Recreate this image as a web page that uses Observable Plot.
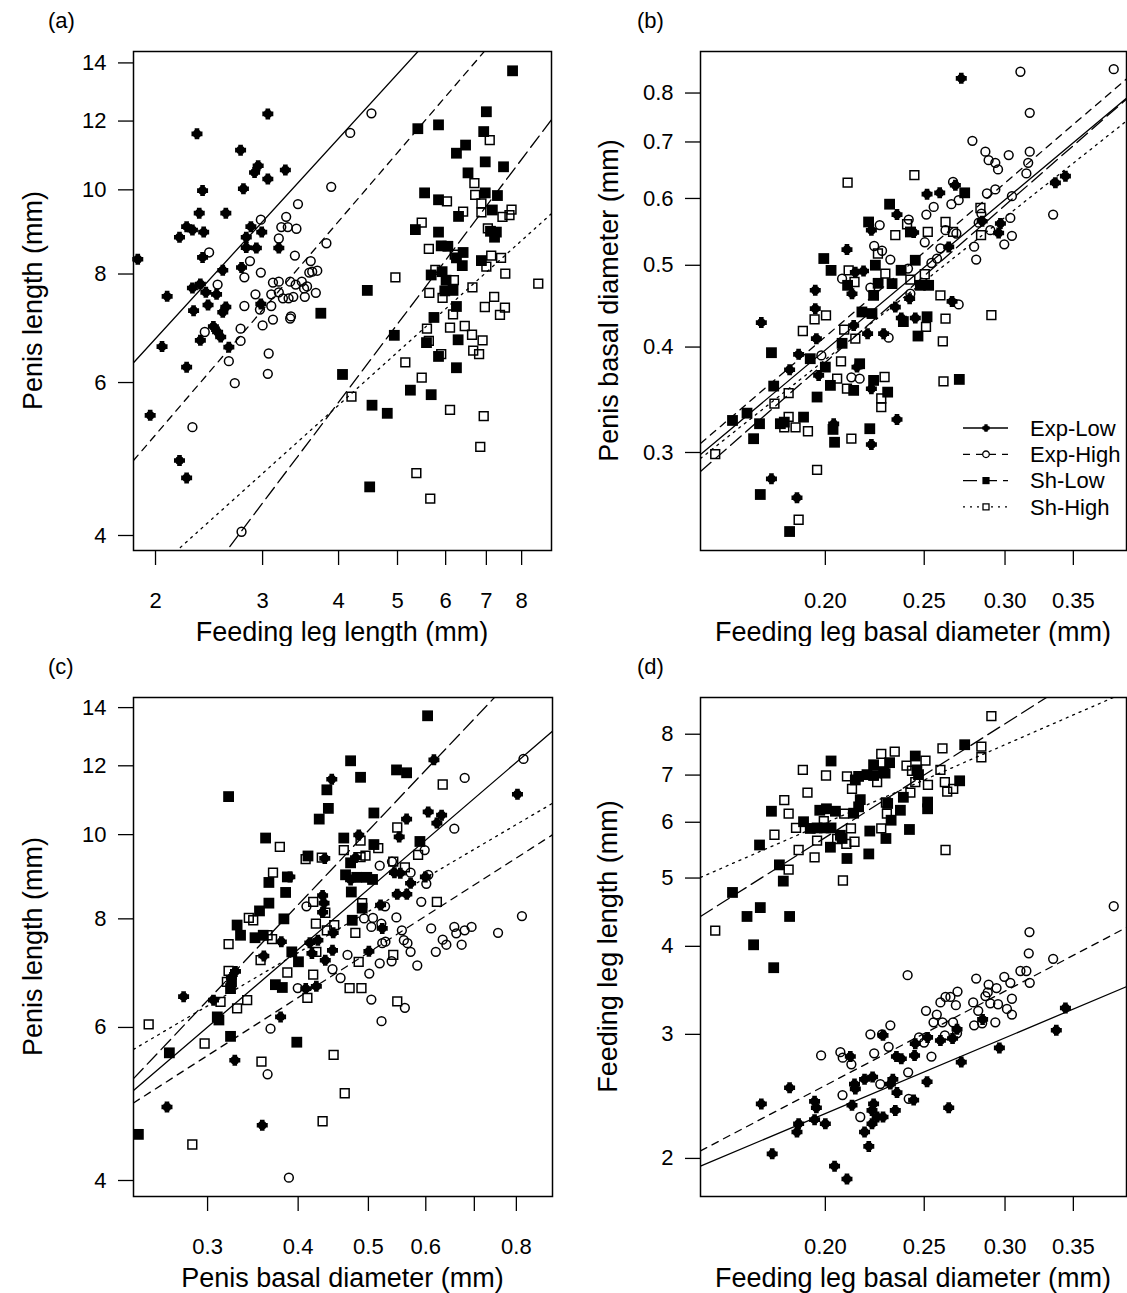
<!DOCTYPE html>
<html>
<head>
<meta charset="utf-8">
<script src="https://cdn.jsdelivr.net/npm/d3@7"></script>
<script src="https://cdn.jsdelivr.net/npm/@observablehq/plot@0.6"></script>
<style>
  body { margin: 0; background: #fff; }
  #fig { position: relative; width: 1127px; height: 1293px; overflow: hidden; background: #fff;
         font-family: "Liberation Sans", Arial, sans-serif; }
  #fig svg { position: absolute; overflow: visible; }
</style>
</head>
<body>
<div id="fig"></div>
<script>
// ---------------------------------------------------------------
// Measurements, [x, y] per individual, one array per group & panel
// ---------------------------------------------------------------
const groups = ["Exp-Low", "Exp-High", "Sh-Low", "Sh-High"];

// (a) penis length vs feeding leg length (mm)
const aExpLow = [[3.06,12.23],[2.34,11.60],[2.76,11.11],[2.95,10.66],[2.91,10.47],[3.27,10.54],[3.06,10.29],[2.39,9.98],[2.79,10.03],[2.36,9.40],[2.61,9.40],[2.25,9.07],[2.30,8.99],[2.40,8.94],[2.19,8.82],[2.87,9.07],[2.99,8.94],[2.82,8.82],[2.82,8.58],[2.93,8.57],[3.19,8.57],[2.39,8.36],[1.87,8.32],[2.58,8.08],[2.77,8.14],[2.09,7.54],[2.30,7.71],[2.37,7.79],[2.42,7.62],[2.52,7.58],[2.31,7.26],[2.44,7.37],[2.61,7.33],[2.58,7.23],[2.98,7.39],[2.49,6.96],[2.53,6.86],[2.56,6.77],[2.37,6.71],[2.64,6.59],[2.05,6.60],[2.25,6.25],[1.96,5.50],[2.19,4.88],[2.25,4.66]];
const aExpHigh = [[4.53,12.25],[4.18,11.63],[3.89,10.08],[3.43,9.63],[3.28,9.31],[2.98,9.24],[3.22,9.06],[3.30,9.06],[3.41,9.02],[3.19,8.79],[3.82,8.68],[2.45,8.47],[3.39,8.40],[3.60,8.28],[2.86,8.28],[2.98,8.03],[2.80,7.93],[3.58,8.03],[3.69,8.07],[3.62,8.05],[2.53,7.78],[3.12,7.82],[3.19,7.84],[3.33,7.84],[3.40,7.78],[3.48,7.84],[3.55,7.74],[3.51,7.70],[2.92,7.58],[3.10,7.58],[3.19,7.62],[3.24,7.50],[3.31,7.50],[3.37,7.53],[3.52,7.53],[3.67,7.61],[2.80,7.35],[2.97,7.28],[3.10,7.35],[3.12,7.09],[3.00,6.98],[3.33,7.11],[3.34,7.15],[2.76,6.92],[2.41,6.86],[2.76,6.70],[3.07,6.48],[2.64,6.35],[3.06,6.14],[2.70,5.99],[2.30,5.33],[2.77,4.04]];
const aShLow = [[7.73,13.71],[7.00,12.30],[5.84,11.88],[5.40,11.76],[6.93,11.67],[6.47,11.26],[6.25,11.02],[6.97,10.77],[7.47,10.63],[6.53,10.46],[5.54,9.92],[5.84,9.74],[6.97,9.92],[7.30,9.85],[7.16,9.48],[6.30,9.32],[5.35,9.00],[5.84,8.94],[7.11,8.96],[7.27,8.94],[7.22,8.82],[5.90,8.62],[6.05,8.61],[6.41,8.47],[6.25,8.35],[6.39,8.18],[6.87,8.29],[5.68,7.98],[5.92,8.05],[6.01,7.87],[5.98,7.65],[6.17,7.66],[4.46,7.66],[6.25,7.34],[5.74,7.13],[4.94,6.80],[5.58,6.67],[6.29,6.72],[5.84,6.43],[6.25,6.24],[4.06,6.13],[5.25,5.88],[5.68,5.81],[4.54,5.65],[4.81,5.53],[4.50,4.55],[3.74,7.21]];
const aShHigh = [[7.09,11.41],[6.69,10.18],[6.71,9.87],[6.03,9.70],[6.87,9.65],[6.41,9.44],[6.87,9.42],[7.70,9.49],[7.64,9.35],[7.44,9.31],[5.48,9.17],[7.04,9.03],[5.63,8.55],[6.21,8.42],[7.13,8.40],[7.40,8.35],[7.00,8.16],[7.52,8.01],[5.77,8.09],[6.19,7.87],[4.96,7.93],[8.52,7.80],[6.64,7.72],[5.64,7.61],[5.93,7.51],[7.21,7.53],[6.96,7.33],[7.51,7.32],[7.37,7.18],[6.17,7.19],[5.59,6.92],[6.10,6.94],[6.45,6.97],[6.63,6.81],[6.90,6.71],[5.63,6.70],[6.66,6.53],[6.81,6.47],[5.90,6.47],[5.15,6.33],[5.48,6.08],[4.20,5.78],[6.10,5.58],[6.93,5.49],[6.84,5.06],[5.37,4.72],[5.66,4.41]];

// (b) penis basal diameter vs feeding leg basal diameter (mm)
const bExpLow = [[0.1955,0.4670],[0.1955,0.4442],[0.1731,0.4276],[0.1960,0.4093],[0.1883,0.3921],[0.1845,0.3760],[0.2148,0.3787],[0.2219,0.3570],[0.2038,0.3244],[0.2351,0.3283],[0.2219,0.3066],[0.1771,0.2792],[0.1876,0.2651],[0.1970,0.3702],[0.2718,0.8327],[0.2516,0.6071],[0.2589,0.6093],[0.2682,0.6221],[0.2351,0.5742],[0.2219,0.5502],[0.2441,0.5467],[0.2100,0.5219],[0.2124,0.4627],[0.2180,0.4923],[0.2140,0.4906],[0.2342,0.4461],[0.2374,0.4330],[0.2450,0.4330],[0.2200,0.4149],[0.2281,0.4149],[0.2419,0.4565],[0.2662,0.4531],[0.2642,0.5257],[0.2849,0.5638],[0.2969,0.5604],[0.2957,0.5461],[0.3361,0.6261],[0.3438,0.6377],[0.2132,0.4242]];
const bExpHigh = [[0.1982,0.3910],[0.2121,0.3683],[0.2161,0.3669],[0.3106,0.8478],[0.3834,0.8537],[0.3172,0.7580],[0.2787,0.7022],[0.2870,0.6817],[0.2891,0.6661],[0.2935,0.6613],[0.2953,0.6494],[0.3025,0.6754],[0.3172,0.6817],[0.3161,0.6613],[0.3148,0.6424],[0.2668,0.6277],[0.2702,0.5972],[0.2658,0.5907],[0.2554,0.5863],[0.2512,0.5742],[0.2880,0.6082],[0.2935,0.6149],[0.3047,0.6038],[0.3344,0.5742],[0.3036,0.5689],[0.2844,0.5758],[0.2827,0.5617],[0.2902,0.5502],[0.3047,0.5418],[0.2995,0.5294],[0.2798,0.5260],[0.2811,0.5079],[0.2414,0.5664],[0.2261,0.5580],[0.2623,0.5502],[0.2688,0.5453],[0.2503,0.5324],[0.2593,0.5237],[0.2233,0.5270],[0.2273,0.5202],[0.2316,0.5079],[0.2541,0.5031],[0.2573,0.5093],[0.2077,0.4821],[0.2214,0.4704],[0.2423,0.4627],[0.2702,0.4493],[0.2307,0.4104],[0.2410,0.4955]];
const bShLow = [[0.1993,0.5093],[0.2026,0.4931],[0.1771,0.3939],[0.1933,0.3875],[0.1780,0.3596],[0.1963,0.3490],[0.1622,0.3274],[0.1676,0.3340],[0.1724,0.3245],[0.1807,0.3245],[0.1823,0.3259],[0.1701,0.3115],[0.1904,0.3304],[0.2035,0.3195],[0.2042,0.3085],[0.2211,0.3201],[0.2302,0.3537],[0.2132,0.3554],[0.2230,0.3652],[0.2161,0.3822],[0.2000,0.3787],[0.2023,0.3603],[0.1727,0.2675],[0.1845,0.2418],[0.2739,0.6093],[0.2312,0.5907],[0.2205,0.5627],[0.2423,0.5476],[0.2450,0.5069],[0.2239,0.5001],[0.2373,0.4932],[0.2103,0.4734],[0.2325,0.4756],[0.2478,0.4734],[0.2525,0.4734],[0.2230,0.4606],[0.2172,0.4402],[0.2222,0.4383],[0.2516,0.4345],[0.2385,0.4288],[0.2465,0.4122],[0.2077,0.4041],[0.2253,0.4760],[0.2706,0.3662]];
const bShHigh = [[0.1952,0.4315],[0.2003,0.4362],[0.1901,0.4179],[0.2072,0.3847],[0.2054,0.3669],[0.2100,0.3571],[0.1841,0.3528],[0.1783,0.3428],[0.1841,0.3307],[0.1823,0.3213],[0.1870,0.3213],[0.1923,0.3179],[0.2121,0.3115],[0.2286,0.3686],[0.2269,0.3476],[0.2269,0.3395],[0.1560,0.2986],[0.1963,0.2861],[0.1883,0.2497],[0.2103,0.6266],[0.2445,0.6395],[0.2838,0.5846],[0.2623,0.5627],[0.2405,0.5592],[0.2342,0.5429],[0.2520,0.5476],[0.2668,0.5476],[0.2842,0.5429],[0.2252,0.5163],[0.2108,0.4932],[0.2290,0.4888],[0.2136,0.4777],[0.2503,0.4879],[0.2423,0.4808],[0.2593,0.4606],[0.2623,0.4322],[0.2510,0.4226],[0.2909,0.4364],[0.2607,0.4063],[0.2087,0.4195],[0.2140,0.4093],[0.2611,0.3642]];

// (c) penis length vs penis basal diameter (mm)
const cExpLow = [[0.4451,11.58],[0.3896,8.94],[0.3792,7.53],[0.3587,7.25],[0.3278,6.96],[0.3236,6.85],[0.4353,9.39],[0.4323,8.51],[0.4343,8.34],[0.4323,8.14],[0.4151,7.51],[0.4259,7.56],[0.4471,7.71],[0.4179,7.30],[0.4461,7.36],[0.4360,7.17],[0.3057,6.45],[0.2780,6.51],[0.3783,6.17],[0.3271,5.50],[0.4238,6.69],[0.4098,6.65],[0.2637,4.86],[0.3569,4.63],[0.6157,12.19],[0.8028,11.13],[0.6046,10.62],[0.6309,10.53],[0.6215,10.31],[0.5645,10.42],[0.5514,9.94],[0.4850,9.99],[0.5431,9.04],[0.5534,9.03],[0.5992,8.94],[0.5717,8.79],[0.5480,8.54],[0.5649,8.54],[0.4800,9.41],[0.4725,8.87],[0.5197,8.30],[0.5225,7.80],[0.5008,7.34]];
const cExpHigh = [[0.4107,8.27],[0.4461,7.00],[0.3995,6.66],[0.3664,5.98],[0.3630,5.30],[0.3884,4.03],[0.8183,12.22],[0.6789,11.62],[0.6569,10.16],[0.5979,9.60],[0.5183,9.21],[0.5389,9.31],[0.5717,9.04],[0.6048,8.99],[0.6010,8.78],[0.5914,8.37],[0.5272,8.27],[0.5465,8.03],[0.5073,8.02],[0.4932,8.01],[0.5047,7.83],[0.5210,7.90],[0.5561,7.76],[0.5225,7.50],[0.5278,7.53],[0.5596,7.56],[0.5661,7.50],[0.5717,7.33],[0.6103,7.80],[0.6569,7.83],[0.6610,7.70],[0.6789,7.76],[0.6939,7.83],[0.6331,7.57],[0.6405,7.47],[0.6724,7.47],[0.6194,7.33],[0.7548,7.71],[0.8143,8.06],[0.5840,7.07],[0.5383,7.15],[0.5183,7.11],[0.5014,6.92],[0.4679,7.27],[0.4577,6.84],[0.5047,6.46],[0.5614,6.32],[0.5213,6.10]];
const cShLow = [[0.3207,11.06],[0.4382,11.26],[0.4403,10.72],[0.4277,10.42],[0.3607,9.91],[0.4127,9.45],[0.3865,8.94],[0.3645,8.81],[0.3844,8.58],[0.3645,8.34],[0.3538,8.17],[0.3823,8.00],[0.3295,7.87],[0.3331,7.66],[0.3488,7.61],[0.3580,7.66],[0.3920,7.33],[0.4004,7.14],[0.3721,6.72],[0.3804,6.67],[0.3237,6.77],[0.3227,6.65],[0.3094,6.17],[0.3110,6.12],[0.3227,5.86],[0.2657,5.61],[0.3983,5.77],[0.2408,4.52],[0.6034,13.70],[0.4725,12.16],[0.4877,11.64],[0.5467,11.87],[0.5645,11.78],[0.5088,10.59],[0.4624,9.91],[0.5088,9.74],[0.5889,9.82],[0.4725,9.28],[0.4736,8.59],[0.4902,8.23],[0.4750,7.97],[0.4650,8.99],[0.4818,8.93],[0.4974,8.93],[0.5066,8.88]];
const cShHigh = [[0.3774,9.68],[0.3693,9.04],[0.4096,9.37],[0.4312,9.41],[0.4196,8.37],[0.3420,8.02],[0.3468,7.97],[0.4232,7.90],[0.4360,8.13],[0.4382,7.76],[0.4486,7.87],[0.3630,7.66],[0.3682,7.58],[0.3207,7.48],[0.3550,7.17],[0.4238,7.33],[0.3207,6.97],[0.3190,6.77],[0.3865,6.94],[0.4196,6.90],[0.3402,6.45],[0.3126,6.42],[0.3295,6.31],[0.4119,6.49],[0.2488,6.05],[0.2972,5.75],[0.3560,5.48],[0.4477,5.58],[0.4638,5.04],[0.4323,4.68],[0.2858,4.40],[0.6331,11.42],[0.5480,10.19],[0.4877,9.84],[0.4624,9.60],[0.4954,9.46],[0.4877,9.42],[0.5159,9.65],[0.5855,9.48],[0.5411,9.31],[0.5614,9.17],[0.6215,8.37],[0.4902,8.34],[0.4797,7.71],[0.5411,7.27],[0.4848,7.14],[0.4710,6.66],[0.4891,6.66],[0.5480,6.43]];

// (d) feeding leg length (mm) vs feeding leg basal diameter (mm)
const dExpLow = [[0.3438,3.27],[0.3368,3.04],[0.2962,2.87],[0.2852,3.15],[0.2692,3.05],[0.2665,2.96],[0.2593,2.94],[0.2519,2.97],[0.2450,2.91],[0.2278,2.99],[0.2718,2.74],[0.2446,2.80],[0.2348,2.79],[0.2374,2.77],[0.2116,2.79],[0.2516,2.57],[0.2329,2.59],[0.2316,2.55],[0.2185,2.59],[0.2225,2.61],[0.2136,2.55],[0.2140,2.51],[0.2351,2.48],[0.2441,2.42],[0.2124,2.38],[0.2230,2.39],[0.2222,2.34],[0.2248,2.29],[0.2278,2.29],[0.2222,2.24],[0.2342,2.34],[0.2642,2.36],[0.2185,2.18],[0.2206,2.08],[0.1952,2.41],[0.1960,2.36],[0.1952,2.27],[0.2000,2.24],[0.1883,2.24],[0.1876,2.18],[0.1845,2.52],[0.1731,2.39],[0.1774,2.03],[0.2042,1.95],[0.2100,1.87]];
const dExpHigh = [[0.3834,4.56],[0.3170,4.19],[0.3165,3.91],[0.3344,3.84],[0.3106,3.69],[0.3148,3.69],[0.3172,3.55],[0.2995,3.62],[0.3036,3.55],[0.2811,3.60],[0.2891,3.53],[0.2943,3.49],[0.2885,3.44],[0.2870,3.40],[0.3047,3.37],[0.2953,3.31],[0.2902,3.32],[0.2792,3.33],[0.3013,3.26],[0.3047,3.20],[0.2824,3.24],[0.2935,3.12],[0.2798,3.09],[0.2849,3.11],[0.2695,3.45],[0.2623,3.39],[0.2652,3.39],[0.2593,3.33],[0.2685,3.30],[0.2510,3.24],[0.2572,3.20],[0.2553,3.12],[0.2605,3.12],[0.2668,3.12],[0.2408,3.64],[0.2316,3.09],[0.2273,3.00],[0.2214,3.00],[0.2307,2.88],[0.2499,2.92],[0.2471,2.97],[0.2619,2.99],[0.2692,3.01],[0.2233,2.82],[0.2121,2.72],[0.2069,2.83],[0.2080,2.78],[0.1981,2.80],[0.2541,2.79],[0.2411,2.65],[0.2264,2.55],[0.2079,2.46],[0.2414,2.43],[0.2164,2.29]];
const dShLow = [[0.2739,7.73],[0.2450,7.45],[0.2312,7.29],[0.2230,7.24],[0.2026,7.33],[0.2197,7.01],[0.2230,6.99],[0.2281,7.08],[0.2156,6.97],[0.2140,6.89],[0.2459,7.12],[0.2468,7.01],[0.2708,6.87],[0.2164,6.46],[0.2156,6.31],[0.2385,6.51],[0.2302,6.38],[0.2519,6.41],[0.2519,6.27],[0.1975,6.24],[0.2005,6.27],[0.2046,6.22],[0.2132,6.18],[0.2369,6.24],[0.1771,6.22],[0.2320,6.04],[0.1904,6.01],[0.1933,5.88],[0.1963,5.89],[0.1996,5.89],[0.2026,5.89],[0.2069,5.75],[0.2077,5.69],[0.2211,5.83],[0.2418,5.86],[0.2293,5.69],[0.2023,5.53],[0.2100,5.33],[0.2206,5.41],[0.1724,5.57],[0.1803,5.22],[0.1819,4.95],[0.1622,4.77],[0.1676,4.41],[0.1727,4.54],[0.1845,4.41],[0.1701,4.02],[0.1780,3.73]];
const dShHigh = [[0.2909,8.49],[0.2605,7.64],[0.2844,7.68],[0.2844,7.42],[0.2269,7.50],[0.2339,7.56],[0.2402,7.22],[0.2507,7.34],[0.2593,7.12],[0.1901,7.12],[0.2003,6.99],[0.2100,6.97],[0.2124,6.69],[0.2248,6.84],[0.2290,7.04],[0.2432,7.10],[0.2450,6.84],[0.2521,6.78],[0.2619,6.84],[0.2633,6.63],[0.2669,6.69],[0.2423,6.61],[0.1921,6.61],[0.1823,6.45],[0.1841,6.17],[0.2293,6.40],[0.2298,6.17],[0.2087,6.17],[0.1993,6.02],[0.1872,5.89],[0.1783,5.76],[0.2119,5.88],[0.2269,5.88],[0.1963,5.65],[0.2054,5.68],[0.2097,5.59],[0.2136,5.63],[0.1883,5.48],[0.1952,5.35],[0.1841,5.14],[0.2623,5.48],[0.2081,4.96],[0.1560,4.21]];

// Fitted log-log regression lines: two points [x1, y1, x2, y2] per group
const fitsA = [[1.854,6.36,4.611,12.78],[1.854,4.91,4.611,10.33],[4.14,5.88,8.93,12.01],[3.887,5.55,8.93,9.37]];
const fitsB = [[0.1509,0.2984,0.3956,0.791],[0.1509,0.3074,0.3956,0.8334],[0.1509,0.2848,0.3956,0.789],[0.1509,0.2951,0.3956,0.743]];
const fitsC = [[0.2387,5.10,0.8965,13.14],[0.2387,4.93,0.8965,9.99],[0.2387,5.27,0.745,14.36],[0.2387,5.68,0.8965,10.86]];
const fitsD = [[0.1509,1.95,0.3953,3.51],[0.1509,2.05,0.3953,4.26],[0.1509,4.41,0.2969,8.20],[0.1509,5.01,0.2969,7.68]];

// Axis tick values
const ticksLegLength = [2, 3, 4, 5, 6, 7, 8];
const ticksPenisLength = [4, 6, 8, 10, 12, 14];
const ticksLegDiameter = [0.20, 0.25, 0.30, 0.35];
const ticksPenisDiameter = [0.3, 0.4, 0.5, 0.6, 0.7, 0.8];

// ---------------------------------------------------------------
// Point symbols (R-like pch shapes)
// ---------------------------------------------------------------
const symBlob = {
  draw(ctx, size) {
    const R = Math.sqrt(size / Math.PI), a = 0.42 * R, c = 0.82 * R;
    ctx.moveTo(a, -R); ctx.lineTo(a, -a); ctx.lineTo(R, -a); ctx.lineTo(R, a);
    ctx.lineTo(a, a); ctx.lineTo(a, R); ctx.lineTo(-a, R); ctx.lineTo(-a, a);
    ctx.lineTo(-R, a); ctx.lineTo(-R, -a); ctx.lineTo(-a, -a); ctx.lineTo(-a, -R);
    ctx.closePath();
    ctx.moveTo(c, 0); ctx.arc(0, 0, c, 0, 2 * Math.PI); ctx.closePath();
  }
};
const symSquare = {
  draw(ctx, size) { const R = Math.sqrt(size / Math.PI); ctx.rect(-R, -R, 2 * R, 2 * R); }
};

const groupStyle = {
  "Exp-Low":  {symbol: symBlob,   r: 5.5, fill: "black", stroke: "none",  dash: null,   legendSym: symBlob,         legendR: 3.8},
  "Exp-High": {symbol: "circle",  r: 4.4, fill: "none",  stroke: "black", dash: "7,6",  legendSym: d3.symbolCircle, legendR: 3.3},
  "Sh-Low":   {symbol: symSquare, r: 5.4, fill: "black", stroke: "none",  dash: "14,6", legendSym: symSquare,       legendR: 3.6},
  "Sh-High":  {symbol: symSquare, r: 4.4, fill: "none",  stroke: "black", dash: "2,5",  legendSym: symSquare,       legendR: 3.0}
};

const fmtInt = d3.format("d");
const fmt1 = d3.format(".1f");
const fmt2 = d3.format(".2f");

const panels = [
  {label: "(a)", left: 0, top: 0, width: 563, height: 646, margin: [51, 12, 96, 133],
   xDomain: [1.840, 8.958], yDomain: [3.844, 14.43],
   xTicks: ticksLegLength, yTicks: ticksPenisLength, xFormat: fmtInt, yFormat: fmtInt,
   series: [aExpLow, aExpHigh, aShLow, aShHigh], fits: fitsA,
   xTitle: "Feeding leg length (mm)", yTitle: "Penis length (mm)", yTitleX: 33, labelX: 48, legend: false},
  {label: "(b)", left: 563, top: 0, width: 564, height: 646, margin: [51, 1, 96, 137],
   xDomain: [0.1509, 0.3946], yDomain: [0.2296, 0.896],
   xTicks: ticksLegDiameter, yTicks: ticksPenisDiameter, xFormat: fmt2, yFormat: fmt1,
   series: [bExpLow, bExpHigh, bShLow, bShHigh], fits: fitsB,
   xTitle: "Feeding leg basal diameter (mm)", yTitle: "Penis basal diameter (mm)", yTitleX: 46, labelX: 74, legend: true},
  {label: "(c)", left: 0, top: 646, width: 563, height: 647, margin: [51, 11, 97, 133],
   xDomain: [0.2371, 0.8973], yDomain: [3.834, 14.38],
   xTicks: ticksPenisDiameter, yTicks: ticksPenisLength,
   xFormat: d => (Math.abs(d - 0.7) < 1e-9 ? "" : fmt1(d)), yFormat: fmtInt,
   series: [cExpLow, cExpHigh, cShLow, cShHigh], fits: fitsC,
   xTitle: "Penis basal diameter (mm)", yTitle: "Penis length (mm)", yTitleX: 33, labelX: 48, legend: false},
  {label: "(d)", left: 563, top: 646, width: 564, height: 647, margin: [51, 1, 97, 137],
   xDomain: [0.1509, 0.3946], yDomain: [1.766, 9.02],
   xTicks: ticksLegDiameter, yTicks: ticksLegLength, xFormat: fmt2, yFormat: fmtInt,
   series: [dExpLow, dExpHigh, dShLow, dShHigh], fits: fitsD,
   xTitle: "Feeding leg basal diameter (mm)", yTitle: "Feeding leg length (mm)", yTitleX: 45, labelX: 74, legend: false}
];

// Straight line in log-log space through two fitted points, spanning the x domain
function fitLine([x1, y1, x2, y2], [xa, xb]) {
  const m = (Math.log(y2) - Math.log(y1)) / (Math.log(x2) - Math.log(x1));
  const f = x => Math.exp(Math.log(y1) + m * (Math.log(x) - Math.log(x1)));
  return [{x: xa, y: f(xa)}, {x: xb, y: f(xb)}];
}

const fig = document.getElementById("fig");
const FONT = "Liberation Sans, Arial, Helvetica, sans-serif";

for (const p of panels) {
  const [mt, mr, mb, ml] = p.margin;
  const marks = [];
  p.series.forEach((pts, i) => {
    const st = groupStyle[groups[i]];
    marks.push(Plot.dot(pts, {x: d => d[0], y: d => d[1], symbol: st.symbol, r: st.r,
      fill: st.fill, stroke: st.stroke, strokeWidth: 1.5}));
  });
  p.fits.forEach((f, i) => {
    const st = groupStyle[groups[i]];
    marks.push(Plot.line(fitLine(f, p.xDomain), {x: "x", y: "y", stroke: "black", strokeWidth: 1.3,
      strokeDasharray: st.dash || undefined, clip: true}));
  });
  marks.push(Plot.frame({stroke: "black", strokeWidth: 1.5}));
  marks.push(Plot.axisX({ticks: p.xTicks, tickFormat: p.xFormat, tickSize: 15, tickPadding: 27, label: null, strokeWidth: 1.3}));
  marks.push(Plot.axisY({ticks: p.yTicks, tickFormat: p.yFormat, tickSize: 15, tickPadding: 12, label: null, strokeWidth: 1.3}));

  const node = Plot.plot({
    width: p.width, height: p.height,
    marginTop: mt, marginRight: mr, marginBottom: mb, marginLeft: ml,
    style: {fontFamily: FONT, fontSize: "22px", color: "black", background: "white", overflow: "visible"},
    x: {type: "log", domain: p.xDomain},
    y: {type: "log", domain: p.yDomain},
    marks
  });
  node.style.left = p.left + "px";
  node.style.top = p.top + "px";
  fig.appendChild(node);

  const svg = d3.select(node);
  const plotW = p.width - ml - mr, plotH = p.height - mt - mb;
  svg.append("text").attr("x", p.labelX).attr("y", 28).attr("font-size", 22)
    .attr("text-anchor", "start")
    .attr("font-family", FONT).attr("fill", "black").text(p.label);
  svg.append("text").attr("transform", `translate(${p.yTitleX},${mt + plotH / 2}) rotate(-90)`)
    .attr("text-anchor", "middle").attr("dy", "0.35em").attr("font-size", 27)
    .attr("font-family", FONT).attr("fill", "black").text(p.yTitle);
  svg.append("text").attr("x", ml + plotW / 2).attr("y", mt + plotH + 82)
    .attr("text-anchor", "middle").attr("dy", "0.35em").attr("font-size", 27)
    .attr("font-family", FONT).attr("fill", "black").text(p.xTitle);

  if (p.legend) {
    // legend box sits in the lower-right corner of the plotting area
    const g = svg.append("g").attr("font-family", FONT).attr("font-size", 22).attr("text-anchor", "start");
    const x0 = ml + plotW - 163, y0 = mt + plotH - 122;
    groups.forEach((name, i) => {
      const st = groupStyle[name];
      const y = y0 + i * 26.3;
      g.append("line").attr("x1", x0).attr("x2", x0 + 45).attr("y1", y).attr("y2", y)
        .attr("stroke", "black").attr("stroke-width", 1.3)
        .attr("stroke-dasharray", st.dash || null);
      g.append("path").attr("transform", `translate(${x0 + 23},${y})`)
        .attr("d", d3.symbol().type(st.legendSym).size(Math.PI * st.legendR * st.legendR)())
        .attr("fill", st.fill === "none" ? "white" : "black")
        .attr("stroke", st.stroke === "none" ? null : "black").attr("stroke-width", 1.3);
      g.append("text").attr("x", x0 + 67).attr("y", y).attr("dy", "0.35em")
        .attr("fill", "black").text(name);
    });
  }
}
</script>
</body>
</html>
